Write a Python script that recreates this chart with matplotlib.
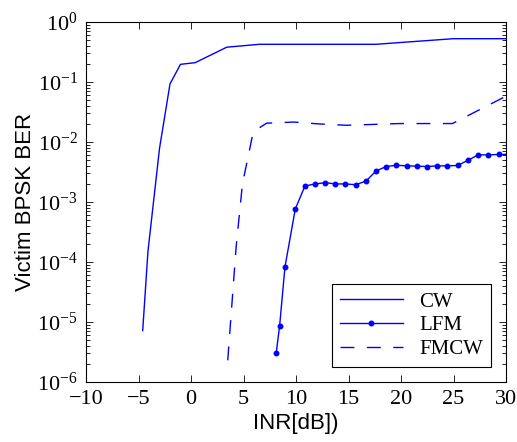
import numpy as np
import matplotlib
matplotlib.use('Agg')
import matplotlib.pyplot as plt
from matplotlib.ticker import LogLocator, LogFormatterMathtext, NullFormatter

plt.rcParams['font.family'] = 'Liberation Serif'
plt.rcParams['mathtext.fontset'] = 'custom'
plt.rcParams['mathtext.rm'] = 'Liberation Serif'
plt.rcParams['mathtext.it'] = 'Liberation Serif:italic'
plt.rcParams['mathtext.bf'] = 'Liberation Serif:bold'

# CW interferer
cw_x = [-4.6, -4.1, -3.0, -2.0, -1.0, 0.4, 3.4, 6.5, 17.6, 25.0, 30.0]
cw_y = [7.2e-6, 1.5e-4, 7.8e-3, 9.3e-2, 0.197, 0.21, 0.38, 0.425, 0.425, 0.527, 0.527]

# LFM interferer
lfm_x = [8.12, 8.44, 8.95, 9.93, 10.85, 11.83, 12.8, 13.76, 14.71, 15.7, 16.68,
         17.63, 18.6, 19.56, 20.54, 21.5, 22.47, 23.46, 24.4, 25.39, 26.37,
         27.36, 28.3, 29.3, 30.2]
lfm_y = [3.1e-6, 8.6e-6, 8.3e-5, 7.6e-4, 1.85e-3, 2.0e-3, 2.1e-3, 2.0e-3, 2.0e-3,
         1.94e-3, 2.24e-3, 3.3e-3, 3.9e-3, 4.1e-3, 4.0e-3, 3.96e-3, 3.9e-3,
         4.0e-3, 4.0e-3, 4.06e-3, 4.95e-3, 6.1e-3, 6.1e-3, 6.2e-3, 6.2e-3]

# FMCW interferer
fmcw_x = [3.5, 4.3, 4.9, 5.9, 6.3, 7.2, 9.8, 12.2, 14.8, 19.9, 24.9, 30.0]
fmcw_y = [2.3e-6, 1.8e-4, 2.0e-3, 1.4e-2, 1.63e-2, 2.06e-2, 2.15e-2, 2.0e-2,
          1.9e-2, 2.03e-2, 2.03e-2, 5.8e-2]

fig = plt.figure(figsize=(5.17, 4.42), dpi=100)
ax = fig.add_axes([86/517, 60/442, 420/517, 360/442])

ax.semilogy(cw_x, cw_y, color='b', lw=1.0, label='CW')
ax.semilogy(lfm_x, lfm_y, color='b', lw=1.0, marker='.', markersize=6.5, label='LFM')
ax.semilogy(fmcw_x, fmcw_y, color='b', lw=1.0, linestyle=(0, (10, 9)), label='FMCW')

ax.set_xlim(-10, 30)
ax.set_ylim(1e-6, 1)
ax.set_xticks(np.arange(-10, 31, 5))
ax.yaxis.set_major_locator(LogLocator(base=10, numticks=10))
ax.yaxis.set_minor_locator(LogLocator(base=10, subs=np.arange(2, 10), numticks=10))
ax.yaxis.set_major_formatter(LogFormatterMathtext())
ax.yaxis.set_minor_formatter(NullFormatter())

ax.tick_params(which='both', direction='in', top=True, right=True,
               labelsize=16, pad=6, width=0.6)
ax.tick_params(which='major', length=5)
ax.tick_params(which='minor', length=3)
for s in ax.spines.values():
    s.set_linewidth(0.8)

ax.set_xlabel('INR[dB])', fontsize=16, family='Liberation Sans', labelpad=3)
ax.set_ylabel('Victim BPSK BER', fontsize=16, family='Liberation Sans', labelpad=1)

leg = ax.legend(loc='lower right', prop={'family': 'Liberation Serif', 'size': 15},
                fancybox=False, edgecolor='black', framealpha=1,
                handlelength=3.0, borderaxespad=0.7, labelspacing=0.2)
leg.get_frame().set_linewidth(0.8)

fig.savefig('out.png', dpi=100)
